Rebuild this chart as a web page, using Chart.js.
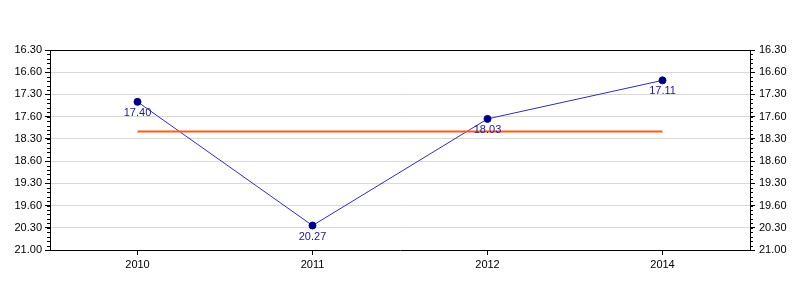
<!DOCTYPE html>
<html>
<head>
<meta charset="utf-8">
<script src="https://cdn.jsdelivr.net/npm/chart.js@4.4.0/dist/chart.umd.min.js"></script>
<style>
	html, body { margin: 0; padding: 0; background: #fff; }
	#wrap { width: 800px; height: 300px; }
</style>
</head>
<body>
<div id="wrap"><canvas id="myChart" width="800" height="300"></canvas></div>
<script>
// values are times read as minutes.seconds
var years = ["2010", "2011", "2012", "2014"]
var timeLabels = ["17.40", "20.27", "18.03", "17.11"]
var averageTime = "18.20"
var yTickLabels = ["16.30", "16.60", "17.30", "17.60", "18.30", "18.60", "19.30", "19.60", "20.30", "21.00"]

function toMinutes(s) {
	var p = s.split(".")
	return Number(p[0]) + Number(p[1]) / 60
}

var times = timeLabels.map(toMinutes)
var avgLine = years.map(function () { return toMinutes(averageTime) })

var FONT = "'Liberation Sans', Arial, sans-serif"
var Y_MIN = 16.5
var Y_MAX = 21
var Y_STEP = 0.5

var extras = {
	id: "extras",
	afterDraw: function (chart) {
		var c = chart.ctx
		var a = chart.chartArea
		c.save()
		// top frame line
		c.strokeStyle = "#000"
		c.lineWidth = 1
		c.beginPath()
		c.moveTo(a.left, a.top + 0.5)
		c.lineTo(a.right, a.top + 0.5)
		c.stroke()
		// minor ticks on both y axes
		var y = chart.scales.y
		c.beginPath()
		for (var v = Y_MIN; v <= Y_MAX + 0.001; v += 0.1) {
			var py = Math.round(y.getPixelForValue(v)) + 0.5
			c.moveTo(a.left - 3, py)
			c.lineTo(a.left, py)
			c.moveTo(a.right, py)
			c.lineTo(a.right + 3, py)
		}
		c.stroke()
		// value labels under the points
		var meta = chart.getDatasetMeta(1)
		c.fillStyle = "#1a1a8c"
		c.font = "11px " + FONT
		c.textAlign = "center"
		c.textBaseline = "middle"
		meta.data.forEach(function (pt, i) {
			c.fillText(timeLabels[i], pt.x, pt.y + 11)
		})
		c.restore()
	},
}

var yAxis = function (pos) {
	return {
		type: "linear",
		position: pos,
		display: true,
		reverse: true,
		min: Y_MIN,
		max: Y_MAX,
		afterFit: function (s) { s.width = 50 },
		border: { display: true, color: "#000" },
		grid: {
			color: "#d9d9d9",
			drawOnChartArea: pos === "left",
			tickColor: "#000",
			tickLength: 5,
		},
		ticks: {
			stepSize: Y_STEP,
			autoSkip: false,
			color: "#000",
			padding: pos === "left" ? 3 : 4,
			font: { size: 11, family: FONT },
			callback: function (v) {
				return yTickLabels[Math.round((v - Y_MIN) / Y_STEP)]
			},
		},
	}
}

var ctx = document.getElementById("myChart").getContext("2d")
var myChart = new Chart(ctx, {
	type: "line",
	data: {
		labels: years,
		datasets: [
			{
				data: avgLine,
				borderColor: "#ff5b1a",
				borderWidth: 2,
				pointRadius: 0,
				fill: false,
				order: 0,
			},
			{
				data: times,
				borderColor: "#2f2fb0",
				borderWidth: 1,
				pointRadius: 3.5,
				pointBackgroundColor: "#000080",
				pointBorderColor: "#000080",
				pointBorderWidth: 1,
				fill: false,
				tension: 0,
				order: 1,
			},
		],
	},
	options: {
		responsive: false,
		animation: false,
		layout: { padding: { top: 50, left: 0, right: 0, bottom: 0 } },
		scales: {
			x: {
				offset: true,
				afterFit: function (s) { s.height = 50 },
				border: { display: true, color: "#000" },
				grid: {
					drawOnChartArea: false,
					tickColor: "#000",
					tickLength: 5,
				},
				ticks: {
					color: "#000",
					padding: 3,
					font: { size: 11, family: FONT },
				},
			},
			y: yAxis("left"),
			y2: yAxis("right"),
		},
		plugins: {
			legend: { display: false },
			tooltip: { enabled: false },
		},
	},
	plugins: [extras],
})
</script>
</body>
</html>
